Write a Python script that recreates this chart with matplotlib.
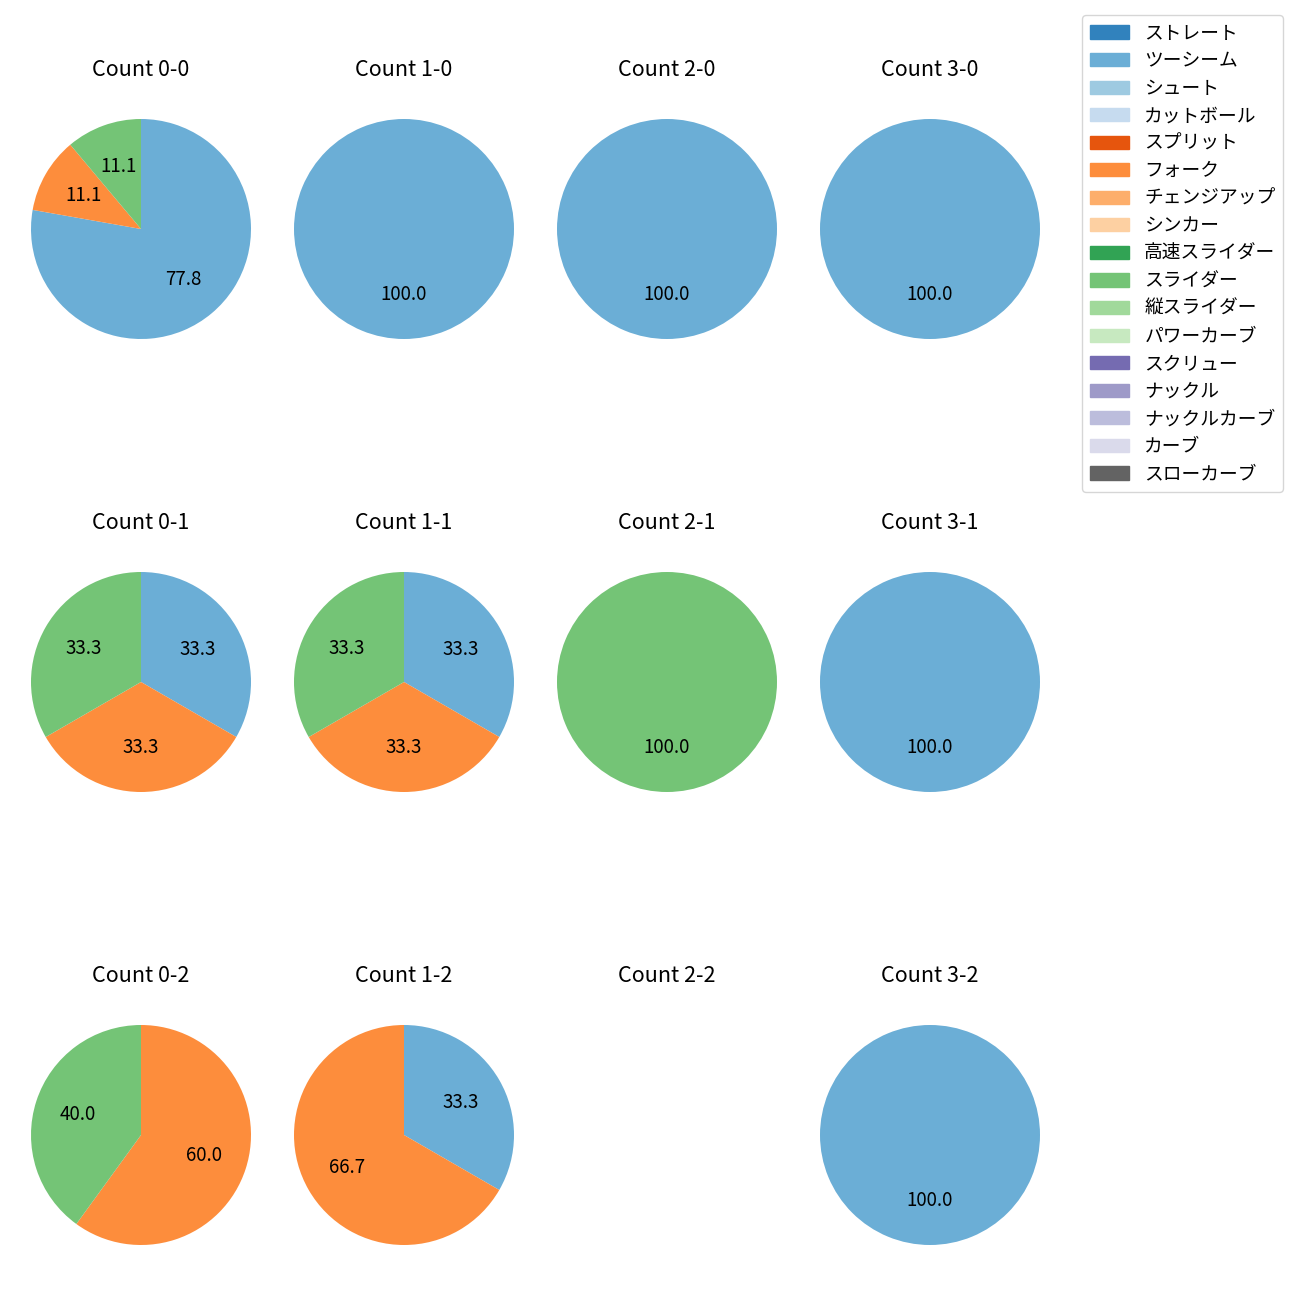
import matplotlib
matplotlib.use('Agg')
import matplotlib.pyplot as plt
from matplotlib.patches import Patch

plt.rcParams['font.family'] = ['Noto Sans CJK JP', 'DejaVu Sans']

pitch_names = ['ストレート', 'ツーシーム', 'シュート', 'カットボール', 'スプリット', 'フォーク',
               'チェンジアップ', 'シンカー', '高速スライダー', 'スライダー', '縦スライダー',
               'パワーカーブ', 'スクリュー', 'ナックル', 'ナックルカーブ', 'カーブ', 'スローカーブ']
pitch_colors = ['#3182bd', '#6baed6', '#9ecae1', '#c6dbef', '#e6550d', '#fd8d3c',
                '#fdae6b', '#fdd0a2', '#31a354', '#74c476', '#a1d99b', '#c7e9c0',
                '#756bb1', '#9e9ac8', '#bcbddc', '#dadaeb', '#636363']

# counts per pitch type for each ball-strike count
count_data = {
    '0-0': {'ツーシーム': 7, 'フォーク': 1, 'スライダー': 1},
    '1-0': {'ツーシーム': 2},
    '2-0': {'ツーシーム': 1},
    '3-0': {'ツーシーム': 1},
    '0-1': {'ツーシーム': 1, 'フォーク': 1, 'スライダー': 1},
    '1-1': {'ツーシーム': 1, 'フォーク': 1, 'スライダー': 1},
    '2-1': {'スライダー': 1},
    '3-1': {'ツーシーム': 1},
    '0-2': {'フォーク': 3, 'スライダー': 2},
    '1-2': {'ツーシーム': 1, 'フォーク': 2},
    '2-2': {},
    '3-2': {'ツーシーム': 1},
}

fig = plt.figure(figsize=(13, 13), dpi=100)
W, H = 1300, 1300
col_x = [141, 404, 667, 930]
row_y = [229, 682, 1135]
r = 110.0
aw, ah = 263, 292

for ri, strikes in enumerate(range(3)):
    for ci, balls in enumerate(range(4)):
        key = f'{balls}-{strikes}'
        cx, cy = col_x[ci], row_y[ri]
        ax = fig.add_axes([(cx - aw / 2) / W, 1 - (cy + ah / 2) / H, aw / W, ah / H])
        d = count_data[key]
        vals = [d[p] for p in pitch_names if p in d]
        cols = [pitch_colors[i] for i, p in enumerate(pitch_names) if p in d]
        if vals:
            ax.pie(vals, colors=cols, startangle=90, counterclock=False,
                   autopct='%.1f', textprops={'fontsize': 13.5})
        ax.set_aspect('auto')
        ax.set_xlim(-aw / 2 / r, aw / 2 / r)
        ax.set_ylim(-ah / 2 / r, ah / 2 / r)
        ax.axis('off')
        ax.set_title(f'Count {key}', fontsize=15.5, pad=5)

handles = [Patch(color=c, label=n) for n, c in zip(pitch_names, pitch_colors)]
fig.legend(handles=handles, loc='upper right', bbox_to_anchor=(1283 / W, 1 - 15 / H),
           borderaxespad=0, fontsize=13.5, labelspacing=0.35, handlelength=2.1)

fig.savefig('out.png', dpi=100)
